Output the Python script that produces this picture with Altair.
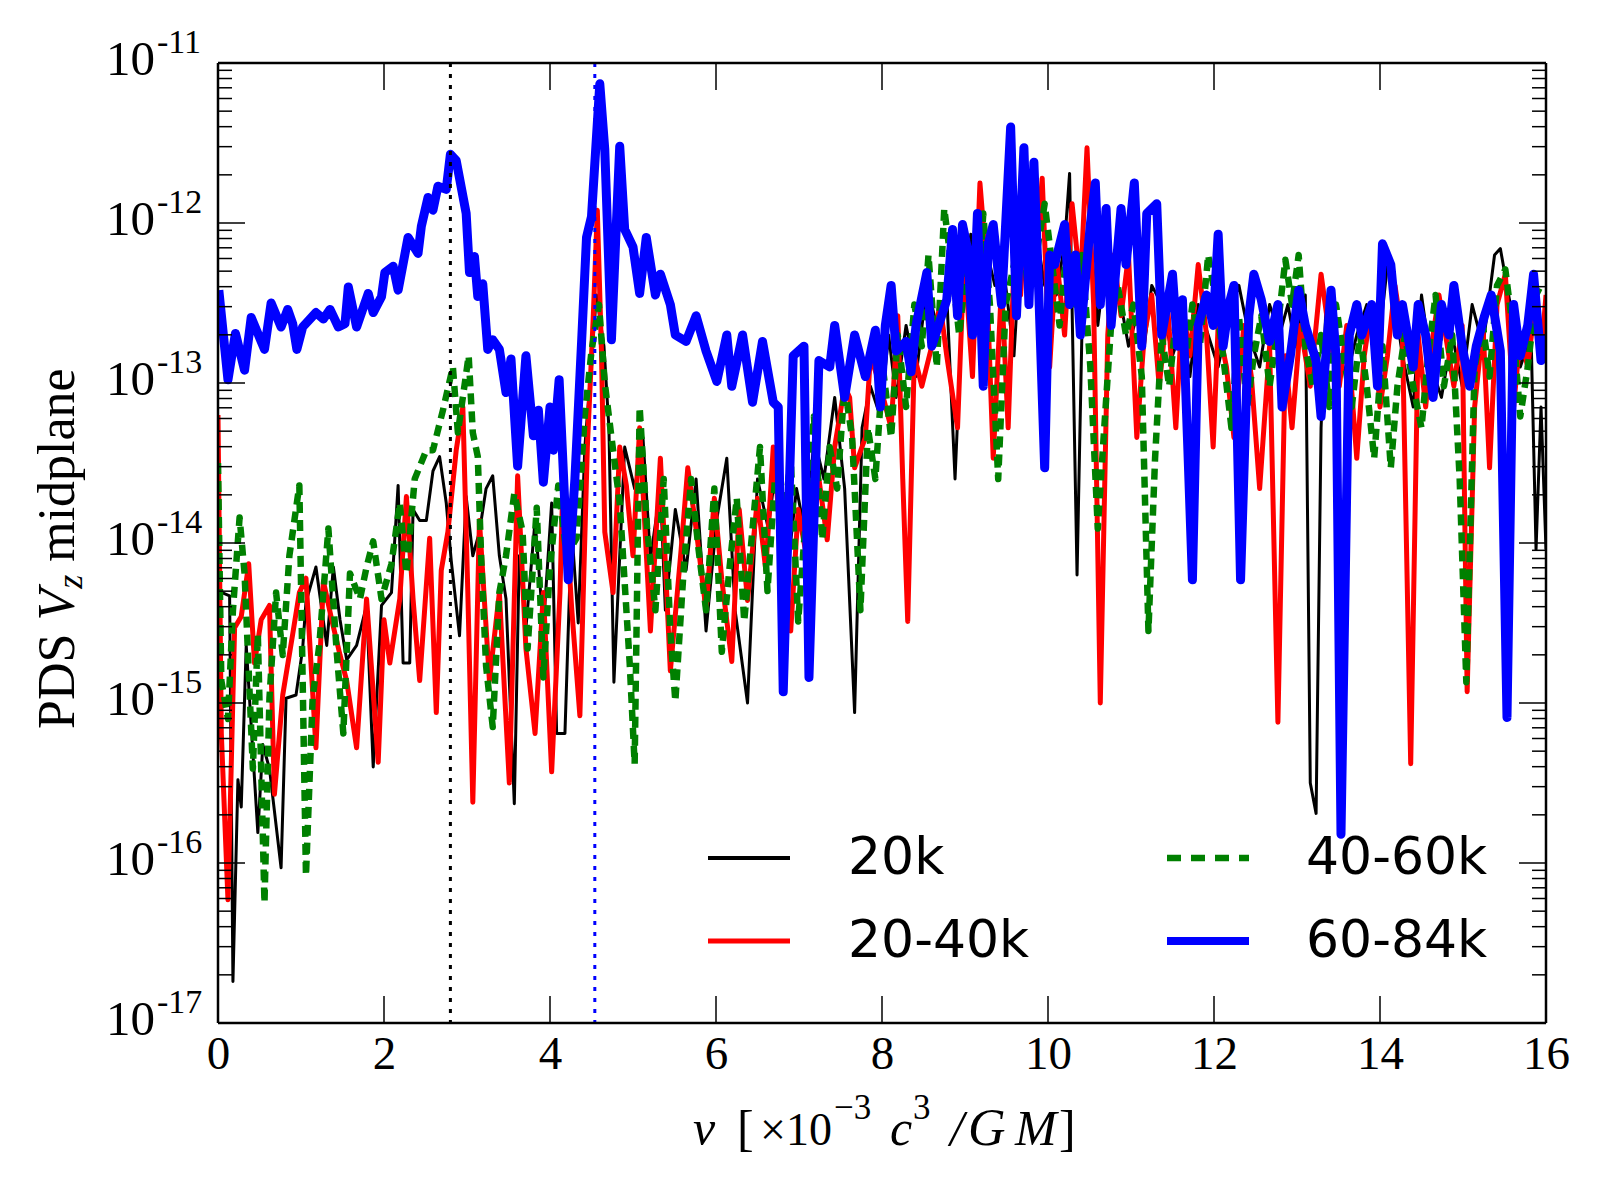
import altair as alt
import pandas as pd

# ---------------- data (log10 of PDS) ----------------
nu_20k = [0.00,0.14,0.18,0.24,0.28,0.34,0.48,0.54,0.62,0.76,
          0.82,0.94,1.02,1.06,1.18,1.31,1.39,1.47,1.55,1.67,
          1.79,1.87,1.97,2.09,2.17,2.23,2.31,2.35,2.43,2.51,
          2.59,2.67,2.75,2.81,2.91,2.99,3.07,3.15,3.23,3.31,
          3.39,3.47,3.57,3.63,3.71,3.82,3.92,4.02,4.08,4.18,
          4.26,4.34,4.42,4.48,4.56,
          4.65,4.71,4.77,4.90,5.02,5.12,5.21,5.33,5.39,5.51,
          5.64,5.76,5.88,6.01,6.13,6.23,6.38,6.50,6.63,6.75,
          6.85,6.97,7.09,7.18,7.30,7.43,7.55,7.67,7.76,7.86,
          7.98,8.08,8.17,8.29,8.41,8.54,8.66,8.78,8.88,8.97,
          9.07,9.15,9.24,9.36,9.46,9.59,9.67,9.77,9.86,9.96,
          10.02,10.10,10.20,10.26,10.35,10.42,10.51,10.60,10.70,10.79,
          10.88,10.97,11.07,11.16,11.25,11.37,11.50,11.62,11.71,11.81,
          11.93,12.05,12.18,12.30,12.42,12.55,12.67,12.79,12.89,12.98,
          13.10,13.16,13.23,13.29,13.35,13.47,13.60,13.72,13.84,13.97,
          14.09,14.15,14.27,14.40,14.50,14.62,14.74,14.87,14.99,15.11,
          15.24,15.38,15.45,15.57,15.69,15.82,15.88,15.94,16.0]
lp_20k = [-14.30,-14.33,-16.74,-15.48,-15.65,-14.64,-15.81,-15.26,-15.41,-16.03,
          -14.97,-14.95,-14.66,-14.37,-14.15,-14.64,-14.15,-14.48,-14.73,-14.64,
          -14.39,-15.40,-14.39,-14.31,-13.64,-14.75,-14.75,-13.79,-13.86,-13.86,
          -13.55,-13.46,-13.75,-14.11,-14.58,-13.71,-14.08,-13.93,-13.66,-13.58,
          -14.08,-14.35,-15.63,-14.08,-14.53,-13.86,-14.53,-13.75,-15.19,-15.19,
          -13.90,-14.50,-13.40,-13.00,-12.45,
          -12.77,-13.28,-14.87,-13.40,-13.66,-13.34,-14.10,-13.66,-14.42,-13.79,
          -14.17,-13.60,-14.55,-13.85,-13.47,-14.42,-15.00,-13.60,-13.91,-13.40,
          -14.23,-13.66,-13.98,-13.34,-13.60,-13.09,-13.66,-15.06,-13.28,-13.02,
          -13.21,-12.70,-13.09,-12.64,-12.96,-12.39,-12.64,-12.45,-13.60,-12.51,
          -12.07,-12.64,-12.13,-12.39,-12.26,-12.83,-12.13,-12.51,-12.07,-12.39,
          -12.20,-12.45,-12.13,-11.69,-14.20,-12.39,-12.07,-12.64,-12.20,-12.45,
          -12.51,-12.77,-12.58,-12.77,-12.39,-12.51,-12.83,-12.64,-12.96,-12.51,
          -12.70,-12.90,-12.58,-12.39,-12.70,-12.90,-12.51,-12.70,-12.51,-12.77,
          -12.45,-15.50,-15.69,-13.28,-12.51,-12.77,-12.96,-12.70,-12.51,-12.83,
          -12.26,-12.39,-12.83,-13.15,-12.45,-12.90,-13.09,-12.70,-13.02,-12.51,
          -12.77,-12.20,-12.16,-12.51,-12.90,-12.70,-14.04,-13.15,-14.04]

nu_2040k = [0.00,0.04,0.12,0.20,0.28,0.37,0.44,0.52,0.62,0.68,
            0.78,0.90,0.98,1.06,1.18,1.27,1.37,1.47,1.55,1.67,
            1.79,1.93,2.00,2.07,2.19,2.27,2.35,2.43,2.55,2.63,
            2.69,2.77,2.87,2.95,3.01,3.07,3.15,3.27,3.39,3.51,
            3.61,3.71,3.82,3.92,4.02,4.12,4.16,4.26,4.36,4.45,
            4.52,4.57,4.62,4.66,4.76,4.84,4.92,5.00,
            5.08,5.21,5.33,5.45,5.58,5.66,5.76,5.88,5.98,6.07,
            6.19,6.28,6.38,6.50,6.60,6.69,6.81,6.90,6.99,7.12,
            7.24,7.34,7.43,7.55,7.61,7.67,7.80,7.86,7.98,8.11,
            8.19,8.25,8.31,8.39,8.48,8.60,8.70,8.78,8.91,8.99,
            9.09,9.18,9.25,9.34,9.44,9.52,9.59,9.67,9.73,9.81,
            9.86,9.93,10.02,10.10,10.20,10.29,10.39,10.47,10.55,10.63,
            10.72,10.79,10.88,10.97,11.07,11.16,11.25,11.34,11.44,11.54,
            11.62,11.71,11.81,11.91,11.99,12.05,12.15,12.24,12.36,12.45,
            12.55,12.67,12.77,12.86,12.94,13.04,13.16,13.29,13.39,13.51,
            13.60,13.72,13.81,13.90,14.00,14.09,14.18,14.27,14.37,14.46,
            14.55,14.62,14.71,14.79,14.89,14.99,15.05,15.14,15.24,15.32,
            15.41,15.51,15.61,15.69,15.78,15.88,15.94,16.0]
lp_2040k = [-13.20,-15.19,-16.23,-14.53,-14.46,-14.13,-14.75,-14.48,-14.39,-15.57,
            -14.95,-14.57,-14.31,-14.22,-15.28,-14.24,-14.48,-14.70,-14.86,-15.28,
            -14.35,-15.37,-14.48,-14.75,-14.35,-13.71,-14.35,-14.86,-13.97,-15.06,
            -14.17,-13.93,-13.42,-13.15,-14.31,-15.62,-13.86,-14.86,-14.31,-15.50,
            -13.58,-14.66,-15.19,-14.31,-15.43,-14.31,-13.53,-14.40,-15.08,-13.40,
            -12.60,-11.92,-12.80,-13.93,-14.31,-13.40,-13.64,-14.08,
            -13.28,-14.55,-13.47,-14.80,-14.04,-13.53,-13.91,-14.42,-13.72,-14.23,
            -14.74,-13.79,-14.36,-13.72,-14.17,-13.40,-14.17,-14.55,-13.79,-14.17,
            -13.60,-13.98,-13.40,-13.02,-13.09,-13.53,-13.34,-12.83,-13.02,-13.28,
            -12.58,-13.60,-14.49,-12.83,-13.02,-12.77,-12.51,-12.83,-13.28,-12.20,
            -12.96,-11.75,-12.20,-13.47,-12.39,-13.28,-12.26,-12.45,-11.94,-12.39,
            -12.20,-11.72,-12.90,-12.20,-12.70,-11.88,-12.39,-11.53,-12.51,-15.00,
            -12.70,-12.20,-12.58,-12.20,-13.34,-12.70,-12.45,-13.02,-12.51,-13.28,
            -12.51,-12.83,-12.26,-12.70,-13.40,-12.64,-12.90,-13.34,-12.64,-12.96,
            -13.66,-12.77,-15.12,-12.83,-13.28,-12.64,-13.02,-12.32,-12.70,-13.02,
            -12.64,-13.47,-12.83,-12.51,-13.15,-12.83,-12.39,-12.70,-15.38,-12.70,
            -13.15,-12.77,-12.45,-12.70,-13.02,-12.64,-14.93,-13.15,-12.64,-13.53,
            -12.51,-12.32,-13.15,-12.70,-12.90,-12.45,-12.83,-12.45]

nu_4060k = [0.00,0.04,0.12,0.18,0.26,0.32,0.42,0.48,0.56,0.62,
            0.70,0.78,0.86,0.98,1.06,1.14,1.22,1.33,1.43,1.51,
            1.59,1.71,1.79,1.87,1.97,2.09,2.19,2.27,2.37,2.51,
            2.59,2.71,2.83,2.89,3.02,3.07,3.13,3.17,3.23,3.31,
            3.39,3.47,3.57,3.67,3.73,3.84,3.92,4.00,4.10,4.20,
            4.32,4.42,4.50,4.59,4.66,4.76,4.84,4.96,5.02,
            5.08,5.17,5.27,5.37,5.45,5.51,5.61,5.70,5.79,5.88,
            5.98,6.07,6.16,6.25,6.34,6.44,6.53,6.62,6.71,6.81,
            6.90,6.99,7.09,7.18,7.28,7.37,7.46,7.55,7.64,7.74,
            7.83,7.92,8.01,8.11,8.19,8.29,8.39,8.48,8.56,8.66,
            8.75,8.85,8.93,9.03,9.13,9.22,9.30,9.40,9.49,9.59,
            9.67,9.77,9.86,9.96,10.05,10.14,10.23,10.33,10.41,10.51,
            10.60,10.67,10.76,10.84,10.94,11.03,11.13,11.21,11.29,11.37,
            11.46,11.56,11.65,11.74,11.83,11.93,12.03,12.11,12.21,12.30,
            12.40,12.48,12.57,12.67,12.77,12.86,12.94,13.02,13.10,13.19,
            13.29,13.39,13.47,13.56,13.66,13.76,13.84,13.93,14.03,14.13,
            14.21,14.30,14.40,14.50,14.58,14.67,14.77,14.87,14.96,15.04,
            15.14,15.24,15.32,15.41,15.51,15.61,15.69,15.78,15.88,15.94]
lp_4060k = [-13.50,-14.86,-15.10,-14.42,-13.84,-14.19,-15.41,-14.57,-16.25,-14.97,
            -14.31,-14.70,-14.08,-13.64,-16.08,-14.97,-14.64,-13.91,-14.68,-15.19,
            -14.19,-14.35,-14.15,-13.99,-14.35,-14.13,-13.75,-14.19,-13.60,-13.42,
            -13.42,-13.17,-12.90,-13.31,-12.83,-13.31,-13.46,-14.08,-14.77,-15.15,
            -14.31,-14.08,-13.69,-13.93,-14.66,-13.78,-14.84,-14.15,-13.64,-14.08,
            -13.97,-13.20,-12.80,-12.51,-13.00,-13.42,-13.75,-14.75,-15.38,
            -13.15,-13.91,-14.42,-13.60,-14.55,-14.99,-14.17,-13.60,-14.04,-14.42,
            -13.66,-14.68,-14.17,-13.72,-14.49,-13.91,-13.40,-14.30,-13.60,-13.91,
            -13.47,-14.49,-13.79,-13.21,-13.98,-13.40,-13.66,-13.02,-13.34,-14.42,
            -13.28,-13.60,-12.90,-13.34,-12.70,-13.15,-12.51,-12.77,-12.20,-12.90,
            -11.91,-12.32,-12.70,-12.20,-12.70,-11.94,-12.51,-13.60,-12.51,-12.26,
            -12.01,-12.45,-12.20,-11.88,-12.26,-12.64,-12.13,-12.51,-12.20,-12.90,
            -13.91,-13.34,-12.64,-12.39,-12.70,-12.51,-12.96,-14.55,-13.47,-12.70,
            -13.02,-12.51,-12.90,-12.51,-12.77,-12.20,-12.51,-12.83,-13.28,-12.58,
            -13.15,-12.83,-12.58,-13.02,-12.64,-12.23,-12.51,-12.20,-12.77,-13.02,
            -12.70,-13.15,-12.51,-12.83,-13.15,-12.70,-13.02,-13.47,-12.77,-13.53,
            -13.02,-12.70,-13.02,-13.28,-12.83,-12.45,-13.02,-12.70,-13.60,-14.87,
            -12.90,-12.64,-12.96,-12.39,-12.29,-12.70,-13.21,-12.90,-12.45,-12.39]

nu_6084k = [0.01,0.12,0.21,0.32,0.40,0.56,0.64,0.76,0.84,0.90,
            0.95,1.02,1.18,1.27,1.35,1.45,1.53,1.57,1.67,1.81,
            1.87,1.97,2.01,2.11,2.17,2.29,2.41,2.45,2.53,2.59,
            2.65,2.75,2.80,2.87,2.99,3.03,3.09,3.13,3.19,3.25,
            3.31,3.39,3.47,3.53,3.61,3.71,3.80,3.86,3.92,4.00,
            4.04,4.11,4.22,4.30,4.38,4.44,4.50,4.60,4.66,4.74,
            4.84,4.90,5.00,5.08,5.16,
            5.27,5.33,5.45,5.51,5.64,5.76,5.88,6.01,6.13,6.19,
            6.32,6.44,6.56,6.69,6.75,6.81,6.93,7.06,7.12,7.24,
            7.37,7.43,7.55,7.67,7.80,7.92,7.98,8.04,8.11,8.17,
            8.29,8.35,8.41,8.54,8.60,8.70,8.78,8.85,8.91,8.97,
            9.03,9.09,9.15,9.22,9.28,9.34,9.44,9.55,9.62,9.71,
            9.77,9.83,9.89,9.96,10.02,10.08,10.20,10.26,10.33,10.39,
            10.51,10.57,10.63,10.70,10.76,10.88,10.94,11.04,11.13,11.19,
            11.31,11.37,11.50,11.56,11.62,11.68,11.74,11.81,11.91,11.99,
            12.05,12.11,12.18,12.24,12.32,12.42,12.48,12.57,12.67,12.77,
            12.82,12.92,13.02,13.10,13.23,13.29,13.41,13.47,13.53,13.63,
            13.72,13.78,13.90,13.97,14.03,14.13,14.21,14.27,14.40,14.46,
            14.55,14.64,14.74,14.83,14.89,14.99,15.08,15.16,15.26,15.34,
            15.45,15.53,15.61,15.69,15.78,15.85,15.94,16.0]
lp_6084k = [-12.42,-12.98,-12.69,-12.92,-12.59,-12.79,-12.50,-12.65,-12.54,-12.63,
            -12.79,-12.65,-12.56,-12.60,-12.54,-12.65,-12.63,-12.40,-12.65,-12.44,
            -12.56,-12.46,-12.31,-12.27,-12.42,-12.09,-12.19,-12.02,-11.84,-11.92,
            -11.77,-11.79,-11.57,-11.61,-11.94,-12.31,-12.21,-12.46,-12.38,-12.79,
            -12.73,-12.79,-13.06,-12.85,-13.52,-12.83,-13.33,-13.17,-13.62,-13.15,
            -13.42,-12.98,-14.23,-13.60,-12.75,-12.09,-11.96,-11.13,-11.54,-12.73,
            -11.52,-12.04,-12.15,-12.44,-12.09,
            -12.45,-12.32,-12.51,-12.70,-12.74,-12.58,-12.80,-12.99,-12.70,-13.02,
            -12.70,-13.12,-12.74,-13.12,-13.15,-14.93,-12.83,-12.77,-14.84,-12.86,
            -12.90,-12.64,-13.09,-12.70,-12.96,-12.67,-13.15,-12.64,-12.39,-12.80,
            -12.74,-12.93,-12.64,-12.31,-12.77,-12.61,-12.48,-12.04,-12.58,-12.01,
            -12.16,-12.70,-11.94,-13.02,-12.13,-12.01,-12.51,-11.40,-12.58,-11.53,
            -12.51,-11.62,-12.45,-13.53,-12.20,-12.26,-12.01,-12.51,-12.20,-12.70,
            -12.01,-11.75,-12.51,-11.91,-12.64,-11.91,-12.26,-11.75,-12.77,-11.94,
            -11.88,-12.70,-12.32,-12.77,-12.48,-13.34,-14.23,-12.64,-12.45,-12.64,
            -12.07,-12.77,-12.51,-12.39,-14.23,-12.58,-12.32,-12.48,-12.74,-12.51,
            -13.15,-12.83,-12.42,-12.64,-12.86,-13.21,-12.42,-12.83,-15.82,-12.70,
            -12.51,-12.70,-12.51,-13.02,-12.13,-12.26,-12.70,-12.51,-12.90,-12.51,
            -12.70,-13.09,-12.51,-12.70,-12.39,-12.77,-13.02,-12.77,-12.58,-12.45,
            -12.80,-15.09,-12.51,-12.83,-12.64,-12.32,-12.86,-12.70]

series_labels = ["20k", "20-40k", "40-60k", "60-84k"]
series_colors = ["#000000", "#ff0000", "#008000", "#0000ff"]
marker_lines_nu = [2.8, 4.54]          # dotted vertical lines
marker_lines_color = ["#000000", "#0000ff"]
x_tick_values = [0, 2, 4, 6, 8, 10, 12, 14, 16]
y_decades = [-17, -16, -15, -14, -13, -12, -11]
y_exp_labels = ["-17", "-16", "-15", "-14", "-13", "-12", "-11"]

# ---------------- layout ----------------
W, H = 1328, 960
SERIF = "Liberation Serif, Times New Roman, DejaVu Serif"
SANS = "DejaVu Sans"

def sdf(nu, lp):
    return pd.DataFrame({"nu": nu, "pds": [10.0 ** v for v in lp]})

xscale = alt.Scale(domain=[0, 16], nice=False, zero=False)
yscale = alt.Scale(type="log", domain=[1e-17, 1e-11], nice=False)

x_axis = alt.Axis(
    values=x_tick_values, format="d", ticks=False, domain=False, grid=False,
    labelFont=SERIF, labelFontSize=47, labelColor="black", labelPadding=8,
    labelFlush=False, labelOverlap=False, title=None)
x_enc = alt.X("nu:Q", scale=xscale, axis=x_axis)
y_enc = alt.Y("pds:Q", scale=yscale, axis=None)

def line(nu, lp, color, width, dash=None):
    kw = dict(color=color, strokeWidth=width, clip=True, strokeJoin="round")
    if dash:
        kw["strokeDash"] = dash
    return alt.Chart(sdf(nu, lp)).mark_line(**kw).encode(x=x_enc, y=y_enc)

l_black = line(nu_20k, lp_20k, series_colors[0], 3)
l_red = line(nu_2040k, lp_2040k, series_colors[1], 5)
l_green = line(nu_4060k, lp_4060k, series_colors[2], 6.5, [11, 7])
l_blue = line(nu_6084k, lp_6084k, series_colors[3], 9)

# vertical dotted lines
vl_layers = []
for v, c in zip(marker_lines_nu, marker_lines_color):
    vl_layers.append(
        alt.Chart(pd.DataFrame({"nu": [v]})).mark_rule(
            color=c, strokeWidth=3, strokeDash=[4, 7]).encode(x=x_enc))

# inward ticks (matplotlib style)
ymaj = pd.DataFrame({"pds": [10.0 ** e for e in y_decades], "exp": y_exp_labels})
ymin = pd.DataFrame({"pds": [m * 10.0 ** e for e in y_decades[:-1] for m in range(2, 10)]})
xmaj = pd.DataFrame({"nu": x_tick_values})
tick_layers = []
for df, L in [(ymaj, 27), (ymin, 14)]:
    for x0, x1 in [(0, L), (W - L, W)]:
        tick_layers.append(alt.Chart(df).mark_rule(color="black", strokeWidth=1.5).encode(
            y=y_enc, x=alt.value(x0), x2=alt.value(x1)))
for y0, y1 in [(0, 27), (H - 27, H)]:
    tick_layers.append(alt.Chart(xmaj).mark_rule(color="black", strokeWidth=1.5).encode(
        x=x_enc, y=alt.value(y0), y2=alt.value(y1)))

# y tick labels: "10" with raised exponent
ylab = [
    alt.Chart(ymaj).mark_text(text="10", align="right", baseline="middle", dy=-3,
                              font=SERIF, fontSize=49, color="black").encode(
        y=y_enc, x=alt.value(-63)),
    alt.Chart(ymaj).mark_text(align="left", baseline="middle", dy=-20,
                              font=SERIF, fontSize=34, color="black").encode(
        y=y_enc, x=alt.value(-61), text="exp:N"),
]

one = pd.DataFrame({"a": [0]})

# frame
frame = [
    alt.Chart(one).mark_rule(color="black", strokeWidth=2.5).encode(
        x=alt.value(0), x2=alt.value(W), y=alt.value(0)),
    alt.Chart(one).mark_rule(color="black", strokeWidth=2.5).encode(
        x=alt.value(0), x2=alt.value(W), y=alt.value(H)),
    alt.Chart(one).mark_rule(color="black", strokeWidth=2.5).encode(
        y=alt.value(0), y2=alt.value(H), x=alt.value(0)),
    alt.Chart(one).mark_rule(color="black", strokeWidth=2.5).encode(
        y=alt.value(0), y2=alt.value(H), x=alt.value(W)),
]

# legend (two columns inside the plot, lower right)
leg_rows = [(0, 795), (1, 878), (2, 795), (3, 878)]
leg_cols = {0: (490, 572, 630), 1: (490, 572, 630), 2: (949, 1031, 1088), 3: (949, 1031, 1088)}
leg_width = [4, 5, 6.5, 8]
leg_layers = []
for i, yy in leg_rows:
    x0, x1, xt = leg_cols[i]
    kw = dict(color=series_colors[i], strokeWidth=leg_width[i])
    if i == 2:
        kw["strokeDash"] = [14, 10]
    leg_layers.append(alt.Chart(one).mark_rule(**kw).encode(
        x=alt.value(x0), x2=alt.value(x1), y=alt.value(yy)))
    leg_layers.append(alt.Chart(one).mark_text(
        text=series_labels[i], align="left", baseline="middle",
        font=SANS, fontSize=52, color="black").encode(
        x=alt.value(xt), y=alt.value(yy)))

# y-axis title: PDS V_z midplane (rotated)
FS = 52
yt = []
def ytext(txt, y, x, size=FS, style="normal"):
    return alt.Chart(one).mark_text(
        text=txt, angle=270, align="left", baseline="alphabetic",
        font=SERIF, fontSize=size, fontStyle=style, color="black").encode(
        x=alt.value(x), y=alt.value(y))
y0 = 666
yt.append(ytext("PDS", y0, -144))
yt.append(ytext("V", y0 - 108.4, -144, style="italic"))
yt.append(ytext("z", y0 - 108.4 - 31.8, -136, size=36, style="italic"))
yt.append(ytext("midplane", y0 - 108.4 - 31.8 - 14 - 13, -144))

# x-axis title: nu [ x10^-3 c^3 /GM ]
XB = 1082   # baseline
XS = 1056   # superscript baseline
def xtext(txt, x, y=XB, size=46, style="normal"):
    return alt.Chart(one).mark_text(
        text=txt, align="left", baseline="alphabetic",
        font=SERIF, fontSize=size, fontStyle=style, color="black").encode(
        x=alt.value(x), y=alt.value(y))
xt = [
    xtext("ν", 475, size=50, style="italic"),
    xtext("[", 519, size=50),
    xtext("×10", 542),
    xtext("−3", 616, y=XS, size=35),
    xtext("c", 672, size=50, style="italic"),
    xtext("3", 695, y=XS, size=35),
    xtext("/", 732, size=50, style="italic"),
    xtext("G", 750, size=52, style="italic"),
    xtext("M", 797, size=50, style="italic"),
    xtext("]", 841, size=50),
]

chart = alt.layer(
    l_black, l_red, l_green, l_blue, *vl_layers, *tick_layers, *frame,
    *ylab, *leg_layers, *yt, *xt
).properties(
    width=W, height=H,
    padding={"left": 210, "top": 55, "right": 40, "bottom": 160},
    autosize=alt.AutoSizeParams(type="none"),
).configure_view(stroke=None).configure(background="white")

chart.save("out.html", embed_options={"renderer": "svg", "actions": False})
